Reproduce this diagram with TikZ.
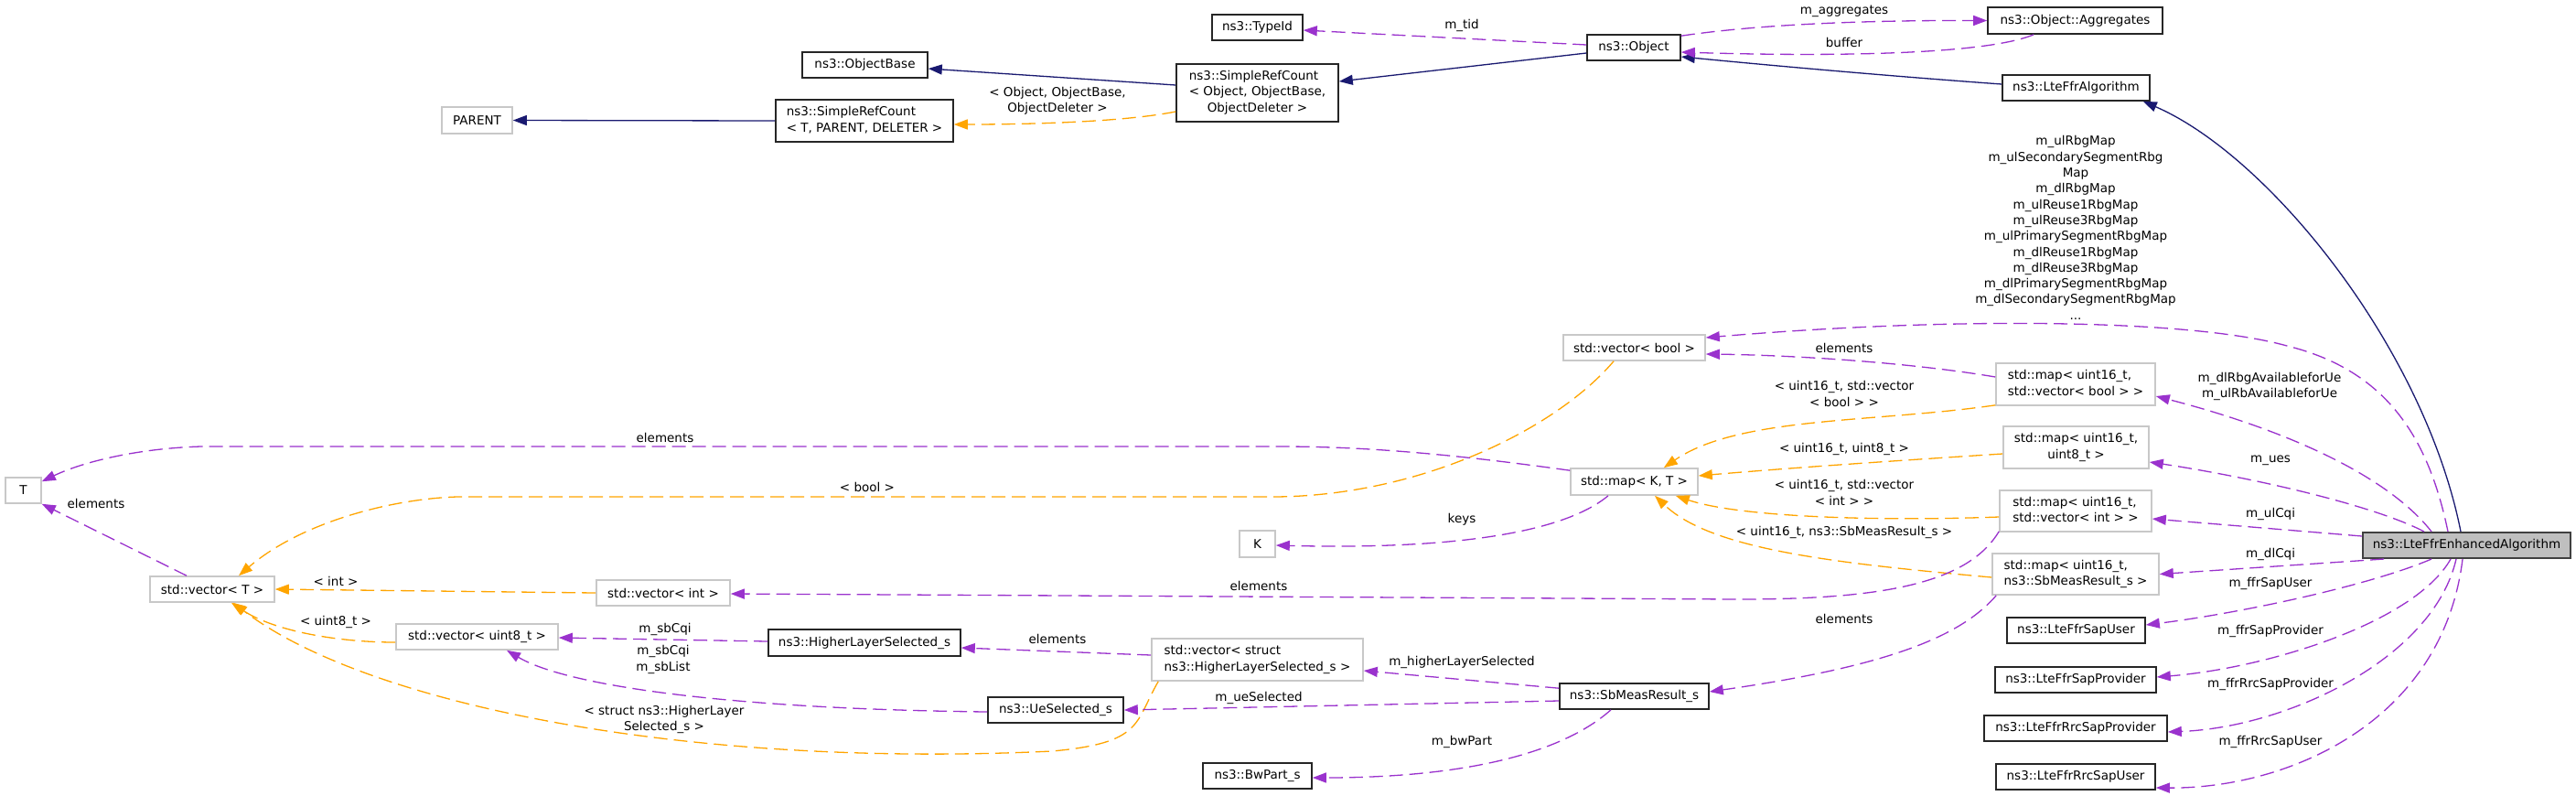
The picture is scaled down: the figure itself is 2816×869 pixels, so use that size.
\documentclass[tikz,border=0pt]{standalone}
\usepackage{fontspec}
\setmainfont{DejaVu Sans}
\usetikzlibrary{arrows.meta,calc}
\definecolor{inhblue}{HTML}{191970}
\definecolor{usepurple}{HTML}{9A32CD}
\definecolor{tplorange}{HTML}{FFA500}
\definecolor{extgray}{HTML}{BFBFBF}
\definecolor{extborder}{HTML}{C8C8C8}
\newcommand\dfont{\fontsize{6.75pt}{8.65pt}\selectfont}
\newcommand\mlc[1]{\multicolumn{1}{@{}c@{}}{#1}}
\newcommand\lft[1]{\begin{tabular}{@{}l@{}}#1\end{tabular}}
\begin{document}
\begin{tikzpicture}[x=0.5pt,y=-0.5pt,
  box/.style={inner sep=0pt, font=\dfont, line width=0.8pt},
  cls/.style={box, draw=black!85},
  ext/.style={box, draw=extborder},
  mainbox/.style={box, draw=black!75, fill=extgray, line width=1pt},
  tipa/.style={-{Triangle[length=7.5pt,width=5.5pt]}},
  inh/.style={draw=inhblue, line width=0.65pt, tipa},
  usage/.style={draw=usepurple, line width=0.65pt, dash pattern=on 7.5pt off 3.5pt, tipa},
  tpl/.style={draw=tplorange, line width=0.65pt, dash pattern=on 7.5pt off 3.5pt, tipa},
  lbl/.style={font=\dfont, inner sep=0pt, align=center}]
\fill[white] (0,0) rectangle (2816,869);
\useasboundingbox (0,0) rectangle (2816,869);

% nodes
\node[ext, minimum width=38.5pt, minimum height=14.5pt] (PARENT) at (521.5,131.5) {PARENT};
\node[cls, minimum width=97pt, minimum height=23pt] (srcT) at (945,132) {\lft{ns3::SimpleRefCount\\\mlc{< T, PARENT, DELETER >}}};
\node[cls, minimum width=68.5pt, minimum height=14pt] (objbase) at (945.5,71) {ns3::ObjectBase};
\node[cls, minimum width=88.5pt, minimum height=31.5pt] (srcO) at (1374.5,101.5) {\lft{ns3::SimpleRefCount\\< Object, ObjectBase,\\\mlc{ObjectDeleter >}}};
\node[cls, minimum width=49.5pt, minimum height=14pt] (typeid) at (1374.5,30) {ns3::TypeId};
\node[cls, minimum width=51pt, minimum height=14pt] (object) at (1786,52) {ns3::Object};
\node[cls, minimum width=95.5pt, minimum height=14.5pt] (aggr) at (2268.5,22.5) {ns3::Object::Aggregates};
\node[cls, minimum width=80.5pt, minimum height=14pt] (alg) at (2269.5,96) {ns3::LteFfrAlgorithm};
\node[mainbox, minimum width=113.5pt, minimum height=14pt] (enh) at (2696.5,596) {ns3::LteFfrEnhancedAlgorithm};
\node[ext, minimum width=77.5pt, minimum height=14pt] (vecbool) at (1786.5,380) {std::vector< bool >};
\node[ext, minimum width=69.5pt, minimum height=14.5pt] (mapKT) at (1786.5,526.5) {std::map< K, T >};
\node[ext, minimum width=19.5pt, minimum height=14.5pt] (K) at (1374.5,594.5) {K};
\node[ext, minimum width=19.5pt, minimum height=14pt] (T) at (25.5,536) {T};
\node[ext, minimum width=68pt, minimum height=14pt] (vecT) at (232,644) {std::vector< T >};
\node[ext, minimum width=73pt, minimum height=14pt] (vecint) at (725,648) {std::vector< int >};
\node[ext, minimum width=88.5pt, minimum height=14pt] (vecu8) at (521.5,696) {std::vector< uint8\_t >};
\node[cls, minimum width=105pt, minimum height=14.5pt] (hls) at (945,702.5) {ns3::HigherLayerSelected\_s};
\node[ext, minimum width=115.5pt, minimum height=23pt] (vechls) at (1374.5,721) {\lft{std::vector< struct\\\mlc{ns3::HigherLayerSelected\_s >}}};
\node[cls, minimum width=81.5pt, minimum height=14pt] (sbm) at (1786.5,761) {ns3::SbMeasResult\_s};
\node[cls, minimum width=74pt, minimum height=14pt] (uesel) at (1154,776) {ns3::UeSelected\_s};
\node[cls, minimum width=59.5pt, minimum height=14pt] (bwpart) at (1374.5,848) {ns3::BwPart\_s};
\node[ext, minimum width=87pt, minimum height=23pt] (mapvb) at (2269,420) {\lft{std::map< uint16\_t,\\\mlc{std::vector< bool > >}}};
\node[ext, minimum width=79.5pt, minimum height=23pt] (mapu8) at (2269.5,489) {\lft{std::map< uint16\_t,\\\mlc{uint8\_t >}}};
\node[ext, minimum width=83pt, minimum height=22.5pt] (mapvi) at (2269,558.5) {\lft{std::map< uint16\_t,\\\mlc{std::vector< int > >}}};
\node[ext, minimum width=91pt, minimum height=22.5pt] (mapsb) at (2269,627.5) {\lft{std::map< uint16\_t,\\\mlc{ns3::SbMeasResult\_s >}}};
\node[cls, minimum width=75.5pt, minimum height=14pt] (sapuser) at (2269.5,689) {ns3::LteFfrSapUser};
\node[cls, minimum width=88pt, minimum height=14pt] (sapprov) at (2269,743) {ns3::LteFfrSapProvider};
\node[cls, minimum width=100pt, minimum height=14pt] (rrcprov) at (2269,796) {ns3::LteFfrRrcSapProvider};
\node[cls, minimum width=87pt, minimum height=14pt] (rrcuser) at (2269,849) {ns3::LteFfrRrcSapUser};

% inheritance
\draw[inh] ($(enh.north west)+(108,0)$) .. controls (2650,380) and (2480,170) .. ($(alg.south east)+(-8,0)$);
\draw[inh] ($(alg.west)+(0,-4)$) .. controls (2050,82) and (1920,70) .. ($(object.east)+(0,10)$);
\draw[inh] ($(object.west)+(0,6)$) -- ($(srcO.east)+(0,-12.5)$);
\draw[inh] ($(srcO.west)+(0,-8.5)$) -- ($(objbase.east)+(0,4)$);
\draw[inh] (srcT.west) -- (PARENT.east);

% template instances
\draw[tpl] ($(srcO.west)+(0,20.5)$) .. controls (1230,133) and (1130,136) .. ($(srcT.east)+(0,4)$);
\draw[tpl] ($(mapvb.south west)+(0,-1)$) .. controls (2050,462) and (1900,455) .. ($(mapKT.north east)+(-38,0)$);
\draw[tpl] ($(mapu8.west)+(0,7)$) .. controls (2050,505) and (1950,512) .. ($(mapKT.east)+(0,-6.5)$);
\draw[tpl] ($(mapvi.west)+(0,6.5)$) .. controls (2050,570) and (1900,565) .. ($(mapKT.south east)+(-25,0)$);
\draw[tpl] ($(mapsb.west)+(0,3.5)$) .. controls (2000,615) and (1870,600) .. ($(mapKT.south)+(22.5,0)$);
\draw[tpl] ($(vecbool.south)+(-22.5,0)$) .. controls (1700,470) and (1550,543) .. (1390,543) -- (500,543) .. controls (430,545) and (330,570) .. ($(vecT.north)+(29,0)$);
\draw[tpl] (vecint.west) -- (vecT.east);
\draw[tpl] ($(vecu8.west)+(0,6)$) .. controls (370,702) and (300,690) .. ($(vecT.south)+(21,0)$);
\draw[tpl] ($(vechls.south west)+(8,0)$) .. controls (1240,790) and (1250,812) .. (1150,821) .. controls (750,840) and (400,770) .. ($(vecT.south)+(23,0)$);

% usage
\draw[usage] ($(object.west)+(0,-3)$) -- ($(typeid.east)+(0,3)$);
\draw[usage] ($(object.north east)+(0,2)$) .. controls (1900,30) and (2000,22) .. (aggr.west);
\draw[usage] ($(aggr.south west)+(51,0)$) .. controls (2170,60) and (2000,62) .. ($(object.east)+(0,5)$);
\draw[usage] ($(enh.north west)+(94,0)$) .. controls (2655,480) and (2610,405) .. (2500,378) .. controls (2400,350) and (2150,345) .. ($(vecbool.east)+(0,-11)$);
\draw[usage] ($(mapvb.west)+(0,-8)$) .. controls (2080,395) and (1950,388) .. ($(vecbool.east)+(0,7)$);
\draw[usage] ($(enh.north west)+(76,0)$) .. controls (2610,520) and (2500,470) .. ($(mapvb.east)+(0,13)$);
\draw[usage] ($(enh.north west)+(68,0)$) .. controls (2590,550) and (2450,520) .. ($(mapu8.east)+(0,16)$);
\draw[usage] ($(enh.west)+(0,-10)$) -- ($(mapvi.east)+(0,8.5)$);
\draw[usage] ($(enh.south west)+(24,0)$) -- (mapsb.east);
\draw[usage] ($(enh.south west)+(76,0)$) .. controls (2590,640) and (2450,670) .. ($(sapuser.east)+(0,-6)$);
\draw[usage] ($(enh.south west)+(97,0)$) .. controls (2640,680) and (2480,730) .. ($(sapprov.east)+(0,-3)$);
\draw[usage] ($(enh.south west)+(103,0)$) .. controls (2660,720) and (2500,795) .. ($(rrcprov.east)+(0,4)$);
\draw[usage] ($(enh.south west)+(110,0)$) .. controls (2670,790) and (2500,862) .. ($(rrcuser.east)+(0,12)$);
\draw[usage] ($(mapKT.south)+(-28.5,0)$) .. controls (1700,590) and (1550,600) .. ($(K.east)+(0,1.5)$);
\draw[usage] ($(mapKT.north west)+(0,3)$) .. controls (1600,498) and (1500,488) .. (1400,488) -- (220,488) .. controls (150,490) and (90,505) .. ($(T.north east)+(0,5)$);
\draw[usage] ($(vecT.north)+(-28,0)$) -- (T.south east);
\draw[usage] ($(mapvi.south west)+(0,-1)$) .. controls (2150,640) and (2050,655) .. (1900,655) -- ($(vecint.east)+(0,1)$);
\draw[usage] ($(mapsb.south west)+(5,0)$) .. controls (2140,700) and (2050,730) .. ($(sbm.east)+(0,-5)$);
\draw[usage] ($(sbm.north west)+(0,6)$) -- ($(vechls.east)+(0,12)$);
\draw[usage] ($(sbm.west)+(0,5)$) -- (uesel.east);
\draw[usage] ($(sbm.south)+(-25.5,0)$) .. controls (1700,830) and (1580,850) .. ($(bwpart.east)+(0,2)$);
\draw[usage] ($(vechls.west)+(0,-5)$) -- ($(hls.east)+(0,5.5)$);
\draw[usage] ($(hls.west)+(0,-1.5)$) -- ($(vecu8.east)+(0,1)$);
\draw[usage] ($(uesel.west)+(0,2)$) .. controls (800,775) and (620,750) .. ($(vecu8.south)+(32.5,0)$);

% labels
\node[lbl] (l1) at (1156,110.5) {< Object, ObjectBase,\\ObjectDeleter >};
\node[lbl] (l2) at (1598,28) {m\_tid};
\node[lbl] (l3) at (2016,12) {m\_aggregates};
\node[lbl] (l4) at (2016,46) {buffer};
\node[lbl] (l5) at (2269,249) {m\_ulRbgMap\\m\_ulSecondarySegmentRbg\\Map\\m\_dlRbgMap\\m\_ulReuse1RbgMap\\m\_ulReuse3RbgMap\\m\_ulPrimarySegmentRbgMap\\m\_dlReuse1RbgMap\\m\_dlReuse3RbgMap\\m\_dlPrimarySegmentRbgMap\\m\_dlSecondarySegmentRbgMap\\...};
\node[lbl] (l6) at (2016,380) {elements};
\node[lbl] (l7) at (2481,422.5) {m\_dlRbgAvailableforUe\\m\_ulRbAvailableforUe};
\node[lbl] (l8) at (2016,430.5) {< uint16\_t, std::vector\\< bool > >};
\node[lbl] (l9) at (2016,491) {< uint16\_t, uint8\_t >};
\node[lbl] (l10) at (2482,503) {m\_ues};
\node[lbl] (l11) at (2016,538.5) {< uint16\_t, std::vector\\< int > >};
\node[lbl] (l12) at (2482,562) {m\_ulCqi};
\node[lbl] (l13) at (2016,582) {< uint16\_t, ns3::SbMeasResult\_s >};
\node[lbl] (l14) at (2482,606) {m\_dlCqi};
\node[lbl] (l15) at (2482,638) {m\_ffrSapUser};
\node[lbl] (l16) at (2016,676) {elements};
\node[lbl] (l17) at (2482,690) {m\_ffrSapProvider};
\node[lbl] (l18) at (2482,748) {m\_ffrRrcSapProvider};
\node[lbl] (l19) at (2482,811) {m\_ffrRrcSapUser};
\node[lbl] (l20) at (727,478) {elements};
\node[lbl] (l21) at (1598,568) {keys};
\node[lbl] (l22) at (948,532) {< bool >};
\node[lbl] (l23) at (105,550) {elements};
\node[lbl] (l24) at (367,635) {< int >};
\node[lbl] (l25) at (367,680) {< uint8\_t >};
\node[lbl] (l26) at (1376,640) {elements};
\node[lbl] (l27) at (727,688) {m\_sbCqi};
\node[lbl] (l28) at (1156,698) {elements};
\node[lbl] (l29) at (725,721) {m\_sbCqi\\m\_sbList};
\node[lbl] (l30) at (1598,724) {m\_higherLayerSelected};
\node[lbl] (l31) at (1376,763) {m\_ueSelected};
\node[lbl] (l32) at (726,786.5) {< struct ns3::HigherLayer\\Selected\_s >};
\node[lbl] (l33) at (1598,811) {m\_bwPart};
\end{tikzpicture}
\end{document}
